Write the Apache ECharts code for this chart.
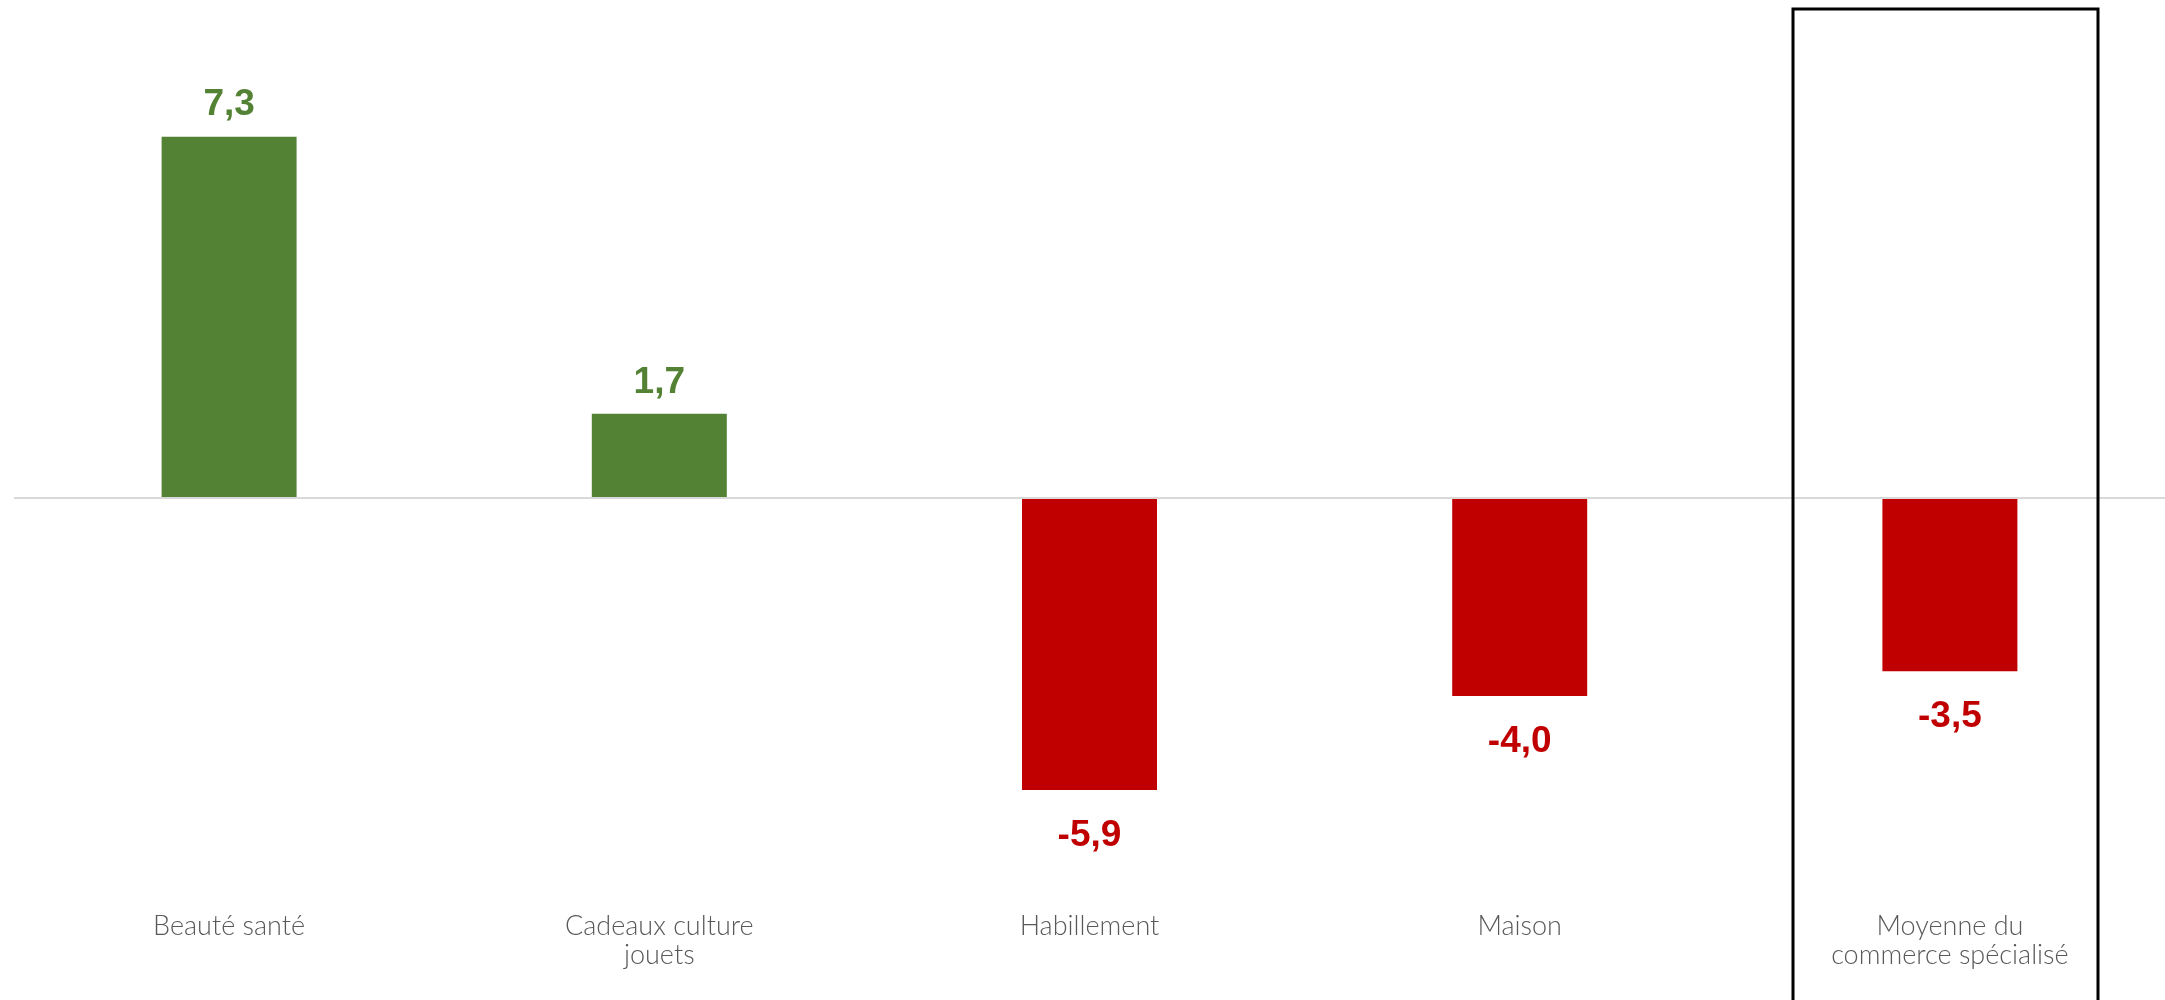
<!DOCTYPE html>
<html>
<head>
<meta charset="utf-8">
<script src="https://cdn.jsdelivr.net/npm/echarts@6/dist/echarts.min.js"></script>
<style>
  html, body { margin: 0; padding: 0; background: #ffffff; }
  #chart { width: 2165px; height: 1000px; }
</style>
</head>
<body>
<div id="chart"></div>
<script>
// Évolution par secteur (points)
const categories = [
  'Beauté santé',
  'Cadeaux culture\njouets',
  'Habillement',
  'Maison',
  'Moyenne du\ncommerce spécialisé'
];
const values = [7.3, 1.7, -5.9, -4.0, -3.5];

const GREEN = '#548235';
const RED = '#C00000';

const chart = echarts.init(document.getElementById('chart'), null, { renderer: 'canvas' });

const fmt = v => v.toFixed(1).replace('.', ',');

chart.setOption({
  animation: false,
  backgroundColor: '#ffffff',
  grid: { left: 14, right: 0, top: 3, height: 891, containLabel: false },
  xAxis: {
    type: 'category',
    data: categories,
    position: 'bottom',
    axisLine: { show: false, onZero: false },
    axisTick: { show: false },
    axisLabel: {
      margin: 18,
      color: '#595959',
      fontFamily: 'Lato, "DejaVu Sans", sans-serif',
      fontWeight: 300,
      fontSize: 27,
      lineHeight: 29
    },
    splitLine: { show: false }
  },
  yAxis: {
    type: 'value',
    min: -8,
    max: 10,
    show: false,
    splitLine: { show: false }
  },
  series: [{
    type: 'bar',
    barWidth: 135,
    data: values.map(v => ({
      value: v,
      itemStyle: { color: v >= 0 ? GREEN : RED },
      label: {
        position: v >= 0 ? 'top' : 'bottom',
        distance: v >= 0 ? 13 : 27,
        color: v >= 0 ? GREEN : RED
      }
    })),
    label: {
      show: true,
      fontFamily: '"Liberation Sans", Arial, sans-serif',
      fontWeight: 'bold',
      fontSize: 37,
      formatter: p => fmt(p.value)
    },
    markLine: {
      silent: true,
      symbol: 'none',
      label: { show: false },
      lineStyle: { color: '#d9d9d9', width: 2, type: 'solid' },
      data: [{ yAxis: 0 }]
    }
  }],
  graphic: [{
    type: 'rect',
    shape: { x: 1793, y: 9, width: 305, height: 1100 },
    style: { fill: 'none', stroke: '#000000', lineWidth: 3 },
    z: 10
  }]
});
</script>
</body>
</html>
